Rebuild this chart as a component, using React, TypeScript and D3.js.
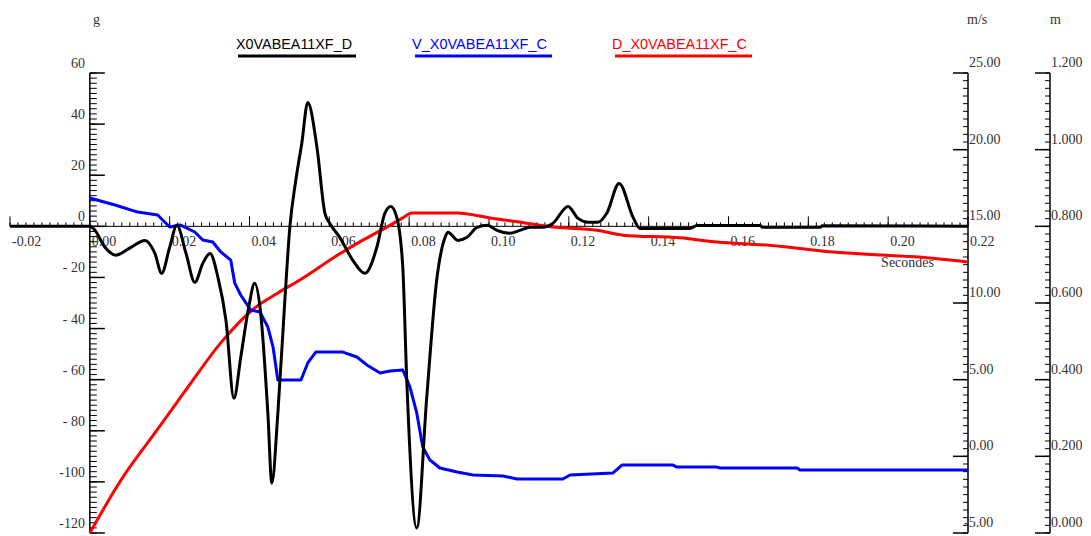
import React from "react";
import * as d3 from "d3";

// ---- tick labels ----
const timeTicks = [-0.02, 0, 0.02, 0.04, 0.06, 0.08, 0.1, 0.12, 0.14, 0.16, 0.18, 0.2, 0.22];
const timeTickLabels = ["-0.02", "0.00", "0.02", "0.04", "0.06", "0.08", "0.10", "0.12", "0.14", "0.16", "0.18", "0.20", "0.22"];
const accelTicks = [60, 40, 20, 0, -20, -40, -60, -80, -100, -120];
const accelTickLabels = ["60", "40", "20", "0", "- 20", "- 40", "- 60", "- 80", "-100", "-120"];
const speedTicks = [25, 20, 15, 10, 5, 0, -5];
const speedTickLabels = ["25.00", "20.00", "15.00", "10.00", "5.00", "0.00", "-5.00"];
const distTicks = [1.2, 1.0, 0.8, 0.6, 0.4, 0.2, 0];
const distTickLabels = ["1.200", "1.000", "0.800", "0.600", "0.400", "0.200", "0.000"];

const seriesNames = ["X0VABEA11XF_D", "V_X0VABEA11XF_C", "D_X0VABEA11XF_C"];
const seriesColors = ["#000000", "#0000ff", "#ff0000"];

// ---- series: acceleration (g) ----
const accelTime = [-0.02, 0, 0.001, 0.0038, 0.0065, 0.0103, 0.0138, 0.0163, 0.018, 0.02, 0.0218, 0.0241, 0.0263, 0.0283, 0.0301, 0.0321, 0.0341, 0.0361, 0.0378, 0.0398, 0.0413, 0.0428, 0.0446, 0.0456, 0.0471, 0.0489, 0.0501, 0.0516, 0.0531, 0.0546, 0.0569, 0.0589, 0.0601, 0.0626, 0.0659, 0.0689, 0.0719, 0.0739, 0.0754, 0.0769, 0.0784, 0.0794, 0.0819, 0.0844, 0.0869, 0.089, 0.0897, 0.0922, 0.0945, 0.097, 0.0995, 0.102, 0.1052, 0.1077, 0.1103, 0.1135, 0.116, 0.1198, 0.1223, 0.1248, 0.1273, 0.1295, 0.1326, 0.1361, 0.1378, 0.1503, 0.1521, 0.168, 0.1685, 0.183, 0.1835, 0.22];
const accelValues = [0, 0, -1, -8.2, -11.3, -8.2, -5.5, -10.6, -18.4, -8.2, 0.4, -10.6, -21.9, -14.5, -10.6, -20, -36.8, -67.3, -51.3, -31.7, -22.3, -34, -73.2, -100.5, -73.2, -27.8, -0.4, 18, 32.5, 48.5, 30.9, 5.1, 1.2, -4.3, -13.3, -18.4, -8.2, 5.1, 7.8, 3.5, -16, -60.3, -118, -66.9, -21, -4.3, -2.3, -5.5, -4.3, -0.4, 0.4, -1.6, -2.7, -1.6, -0.4, -0.4, 1.2, 7.8, 3.1, 1.6, 1.6, 5.1, 16.8, 3.5, -0.8, -0.8, 0.3, 0.3, -0.4, -0.4, 0.2, 0];

// ---- series: velocity (m/s) ----
const speedTime = [0, 0.0063, 0.012, 0.017, 0.02, 0.0226, 0.0263, 0.0283, 0.0308, 0.0328, 0.0353, 0.0363, 0.0378, 0.0403, 0.0426, 0.0446, 0.0459, 0.0471, 0.0529, 0.0546, 0.0566, 0.0634, 0.0669, 0.0694, 0.0727, 0.0752, 0.0784, 0.0802, 0.0819, 0.0834, 0.0852, 0.0877, 0.092, 0.096, 0.1035, 0.107, 0.1185, 0.1203, 0.131, 0.1333, 0.1461, 0.1471, 0.1571, 0.1579, 0.1772, 0.1779, 0.22];
const speedValues = [16.85, 16.39, 15.93, 15.74, 14.96, 15.09, 14.63, 14.11, 13.98, 13.33, 12.8, 11.3, 10.52, 9.54, 9.41, 8.43, 7.13, 4.98, 4.98, 6.09, 6.8, 6.8, 6.48, 5.96, 5.43, 5.56, 5.63, 4.52, 2.83, 0.61, -0.24, -0.76, -1.02, -1.22, -1.28, -1.48, -1.48, -1.22, -1.09, -0.57, -0.57, -0.7, -0.7, -0.76, -0.76, -0.89, -0.89];

// ---- series: displacement (m) ----
const distTime = [0, 0.0078, 0.0163, 0.0246, 0.0328, 0.0413, 0.0471, 0.0526, 0.0621, 0.0684, 0.0744, 0.0784, 0.0807, 0.092, 0.1002, 0.107, 0.116, 0.127, 0.1336, 0.1478, 0.1571, 0.1696, 0.1772, 0.1862, 0.1987, 0.2112, 0.22];
const distValues = [0, 0.138, 0.261, 0.381, 0.496, 0.587, 0.626, 0.66, 0.725, 0.764, 0.798, 0.822, 0.835, 0.835, 0.822, 0.812, 0.798, 0.79, 0.777, 0.77, 0.759, 0.751, 0.743, 0.733, 0.725, 0.717, 0.707];

const W = 1091;
const H = 536;
const serif = "'Liberation Serif', 'Times New Roman', serif";
const sans = "'Liberation Sans', Arial, sans-serif";
const labelColor = "#333";

export default function App() {
  const x = d3.scaleLinear().domain([-0.02, 0.22]).range([10, 968]);
  const yG = d3.scaleLinear().domain([-120, 60]).range([533, 73]);
  const yV = d3.scaleLinear().domain([-5, 25]).range([533, 73]);
  const yM = d3.scaleLinear().domain([0, 1.2]).range([533, 73]);

  const axisX0 = x(0);
  const axisV = x(0.22);
  const axisM = 1050;
  const zeroY = yG(0);

  const accelLine = d3
    .line<number>()
    .x((_, i) => x(accelTime[i]))
    .y((d) => yG(d))
    .curve(d3.curveMonotoneX)(accelValues);
  const speedLine = d3
    .line<number>()
    .x((_, i) => x(speedTime[i]))
    .y((d) => yV(d))(speedValues);
  const distLine = d3
    .line<number>()
    .x((_, i) => x(distTime[i]))
    .y((d) => yM(d))
    .curve(d3.curveMonotoneX)(distValues);

  const xMinor = d3.range(-0.02, 0.2201, 0.002);
  const gMinor = d3.range(-120, 60.01, 2);
  const vMinor = d3.range(-5, 25.01, 0.5);
  const mMinor = d3.range(0, 1.2001, 0.02);

  const legendX = [
    { tx: 236, tl: 116, lx1: 238, lx2: 356 },
    { tx: 412, tl: 135, lx1: 415, lx2: 552 },
    { tx: 612, tl: 135, lx1: 615, lx2: 752 },
  ];

  return (
    <svg
      width={W}
      height={H}
      style={{ position: "absolute", left: 0, top: 0, background: "#fff" }}
    >
      <rect x={0} y={0} width={W} height={H} fill="#fff" />

      {/* units */}
      <text x={93} y={24} fontFamily={serif} fontSize={14} fill={labelColor}>g</text>
      <text x={967} y={24} fontFamily={serif} fontSize={14} fill={labelColor}>m/s</text>
      <text x={1050} y={24} fontFamily={serif} fontSize={14} fill={labelColor}>m</text>

      {/* legend */}
      {seriesNames.map((n, i) => (
        <g key={n}>
          <text
            x={legendX[i].tx}
            y={49}
            fontFamily={sans}
            fontSize={14}
            fill={seriesColors[i]}
            textLength={legendX[i].tl}
            lengthAdjust="spacingAndGlyphs"
          >
            {n}
          </text>
          <line x1={legendX[i].lx1} x2={legendX[i].lx2} y1={56} y2={56} stroke={seriesColors[i]} strokeWidth={3} />
        </g>
      ))}

      {/* x axis */}
      <line x1={x(-0.02)} x2={x(0.22)} y1={zeroY} y2={zeroY} stroke="#000" strokeWidth={1} />
      {xMinor.map((t, i) => (
        <line key={"xm" + i} x1={x(t)} x2={x(t)} y1={zeroY} y2={zeroY - 4} stroke="#000" strokeWidth={1} />
      ))}
      {timeTicks.map((t, i) => (
        <g key={"xt" + i}>
          <line x1={x(t)} x2={x(t)} y1={zeroY} y2={zeroY - 10} stroke="#000" strokeWidth={1} />
          <text x={x(t) + 2} y={246} fontFamily={serif} fontSize={14} fill={labelColor}>
            {timeTickLabels[i]}
          </text>
        </g>
      ))}
      <text x={934} y={267} textAnchor="end" fontFamily={serif} fontSize={14} fill={labelColor}>Secondes</text>

      {/* left axis (g) */}
      <line x1={axisX0} x2={axisX0} y1={yG(60)} y2={yG(-120)} stroke="#000" strokeWidth={1.5} />
      {gMinor.map((v, i) => (
        <line key={"gm" + i} x1={axisX0} x2={axisX0 + 7} y1={yG(v)} y2={yG(v)} stroke="#000" strokeWidth={1} />
      ))}
      {accelTicks.map((v, i) => (
        <g key={"gt" + i}>
          <line x1={axisX0} x2={axisX0 + 15} y1={yG(v)} y2={yG(v)} stroke="#000" strokeWidth={1.5} />
          <text x={85} y={yG(v) - 5} textAnchor="end" fontFamily={serif} fontSize={14} fill={labelColor}>
            {accelTickLabels[i]}
          </text>
        </g>
      ))}

      {/* right axis (m/s) */}
      <line x1={axisV} x2={axisV} y1={yV(25)} y2={yV(-5)} stroke="#000" strokeWidth={1.5} />
      {vMinor.map((v, i) => (
        <line key={"vm" + i} x1={axisV - 5} x2={axisV} y1={yV(v)} y2={yV(v)} stroke="#000" strokeWidth={1} />
      ))}
      {speedTicks.map((v, i) => (
        <g key={"vt" + i}>
          <line x1={axisV - 15} x2={axisV} y1={yV(v)} y2={yV(v)} stroke="#000" strokeWidth={1.5} />
          <text
            x={v < 0 ? axisV - 4 : axisV + 1}
            y={yV(v) - 6}
            fontFamily={serif}
            fontSize={14}
            fill={labelColor}
          >
            {speedTickLabels[i]}
          </text>
        </g>
      ))}

      {/* right-most axis (m) */}
      <line x1={axisM} x2={axisM} y1={yM(1.2)} y2={yM(0)} stroke="#000" strokeWidth={1.5} />
      {mMinor.map((v, i) => (
        <line key={"mm" + i} x1={axisM - 5} x2={axisM} y1={yM(v)} y2={yM(v)} stroke="#000" strokeWidth={1} />
      ))}
      {distTicks.map((v, i) => (
        <g key={"mt" + i}>
          <line x1={axisM - 15} x2={axisM} y1={yM(v)} y2={yM(v)} stroke="#000" strokeWidth={1.5} />
          <text x={axisM + 1} y={yM(v) - 6} fontFamily={serif} fontSize={14} fill={labelColor}>
            {distTickLabels[i]}
          </text>
        </g>
      ))}

      {/* series */}
      <path d={distLine || ""} fill="none" stroke={seriesColors[2]} strokeWidth={3} strokeLinejoin="round" />
      <path d={speedLine || ""} fill="none" stroke={seriesColors[1]} strokeWidth={3} strokeLinejoin="round" />
      <path d={accelLine || ""} fill="none" stroke={seriesColors[0]} strokeWidth={3} strokeLinejoin="round" />
    </svg>
  );
}
